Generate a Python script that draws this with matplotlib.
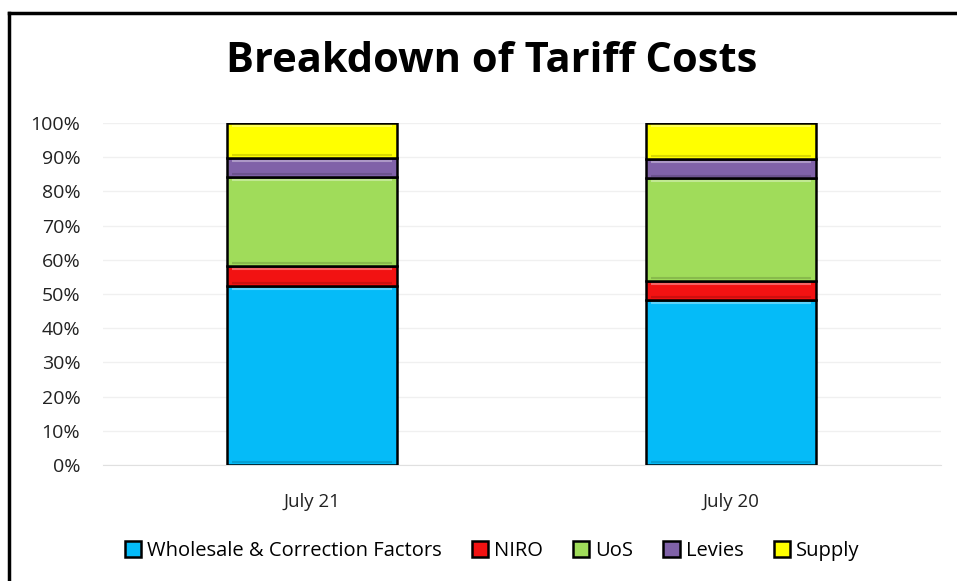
import matplotlib
matplotlib.use('Agg')
import matplotlib.pyplot as plt
import numpy as np
from matplotlib.lines import Line2D

plt.rcParams['font.family'] = ['Open Sans', 'DejaVu Sans']

# data (percent of tariff)
months = ['July 21', 'July 20']
series = ['Wholesale & Correction Factors', 'NIRO', 'UoS', 'Levies', 'Supply']
wholesale = [52.4, 48.2]
niro = [5.8, 5.6]
uos = [26.1, 30.0]
levies = [5.6, 5.7]
supply = [10.1, 10.5]
colours = ['#05BBF8', '#F21212', '#A0DC5A', '#8062A8', '#FFFF00']

W, H = 957, 581
fig = plt.figure(figsize=(W / 100, H / 100), dpi=100)
ax = fig.add_axes([102.5 / W, (H - 465) / H, 838 / W, 342 / H])

x = np.arange(len(months))
bottom = np.zeros(len(months))
handles = []
for name, vals, col in zip(series, [wholesale, niro, uos, levies, supply], colours):
    b = ax.bar(x, vals, width=0.406, bottom=bottom, color=col, edgecolor='black',
               linewidth=1.8, label=name, zorder=3)
    # soft bevel: light line at top, darker line at bottom of each segment
    for xi, v, bt in zip(x, vals, bottom):
        ax.plot([xi - 0.19, xi + 0.19], [bt + v - 0.9, bt + v - 0.9], color='white',
                alpha=0.35, lw=1.5, zorder=4, solid_capstyle='butt')
        ax.plot([xi - 0.19, xi + 0.19], [bt + 0.8, bt + 0.8], color='black',
                alpha=0.15, lw=1.5, zorder=4, solid_capstyle='butt')
    bottom += np.array(vals)
    handles.append(b)

ax.set_xlim(-0.5, 1.5)
ax.set_ylim(0, 100)
ax.set_yticks(np.arange(0, 101, 10))
ax.set_yticklabels([f'{v}%' for v in range(0, 101, 10)])
ax.set_xticks(x)
ax.set_xticklabels(months)
ax.tick_params(axis='y', length=0, labelsize=14, pad=16, colors='#222222')
ax.tick_params(axis='x', length=0, labelsize=13.5, pad=20, colors='#222222')
ax.grid(axis='y', color='#F0F0F0', lw=1, zorder=0)
for s in ['top', 'right', 'left']:
    ax.spines[s].set_visible(False)
ax.spines['bottom'].set_color('#E0E0E0')

fig.text(492 / W, 1 - 61 / H, 'Breakdown of Tariff Costs', ha='center', va='center',
         fontsize=30, fontweight='bold')

fig.legend(handles, series, loc='center', bbox_to_anchor=(492 / W, 1 - 551 / H), ncol=5,
           frameon=False, fontsize=14.5, handlelength=0.8, handleheight=0.8,
           handletextpad=0.3, columnspacing=1.5)

# chart border (left and top edges visible)
fig.add_artist(Line2D([9 / W, 9 / W], [0, 1 - 13 / H], color='black', lw=2.5))
fig.add_artist(Line2D([9 / W, 1], [1 - 13 / H, 1 - 13 / H], color='black', lw=2.5))

fig.savefig('out.png', dpi=100)
